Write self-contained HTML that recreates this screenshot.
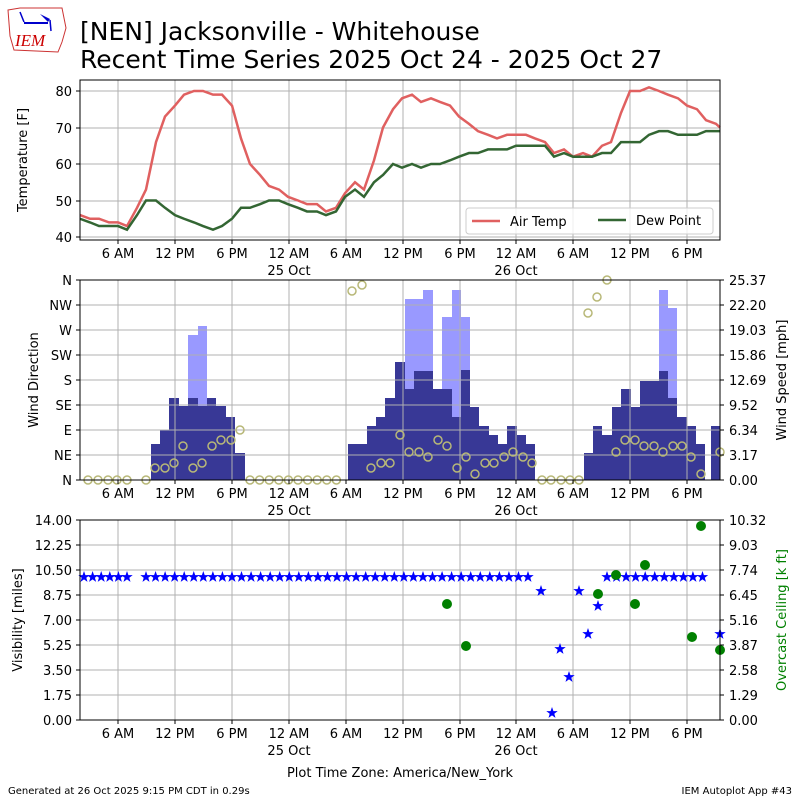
<!DOCTYPE html>
<html><head><meta charset="utf-8"><style>
body{margin:0;background:#fff}
svg{display:block}
text{font-family:"DejaVu Sans","Liberation Sans",sans-serif;fill:#000}
</style></head><body>
<svg id="s" width="800" height="800" viewBox="0 0 800 800" xmlns="http://www.w3.org/2000/svg">
<rect width="800" height="800" fill="#fff"/>
<!-- logo -->
<g>
<path d="M8,10 L20,8 L62,8 L66,28 L62,42 L58,52 L14,50 L10,36 Z" fill="#fff" stroke="#c33" stroke-width="1"/>
<line x1="24" y1="23" x2="48" y2="23" stroke="#00c" stroke-width="2"/>
<line x1="20" y1="12" x2="24" y2="22" stroke="#00c" stroke-width="1.5"/>
<path d="M40,14 L50,19 L48,22 Z" fill="#00c"/>
<line x1="50" y1="20" x2="51" y2="31" stroke="#00c" stroke-width="1.5"/>
<text x="15" y="46" font-size="17" style="fill:#c00;font-family:'Liberation Serif',serif;font-style:italic">IEM</text>
</g>
<text x="80" y="40" font-size="25">[NEN] Jacksonville - Whitehouse</text>
<text x="80" y="68" font-size="25">Recent Time Series 2025 Oct 24 - 2025 Oct 27</text>
<g id="grid" stroke="#b0b0b0" stroke-width="1"></g>
<g id="data"></g>
<g id="frames" fill="none" stroke="#000" stroke-width="1">
<rect x="80" y="80" width="640" height="160"/>
<rect x="80" y="280" width="640" height="200"/>
<rect x="80" y="520" width="640" height="200"/>
</g>
<g id="ticks" stroke="#000" stroke-width="1"></g>
<g font-size="13">
<text x="72" y="96" text-anchor="end">80</text>
<text x="72" y="169" text-anchor="end">60</text>
<text x="72" y="133" text-anchor="end">70</text>
<text x="72" y="206" text-anchor="end">50</text>
<text x="72" y="242" text-anchor="end">40</text>
<text transform="translate(27,160) rotate(-90)" text-anchor="middle">Temperature [F]</text>
<g text-anchor="middle">
<text x="118" y="258">6 AM</text><text x="175" y="258">12 PM</text><text x="232" y="258">6 PM</text><text x="289" y="258">12 AM</text><text x="289" y="275">25 Oct</text><text x="346" y="258">6 AM</text><text x="403" y="258">12 PM</text><text x="460" y="258">6 PM</text><text x="516" y="258">12 AM</text><text x="516" y="275">26 Oct</text><text x="573" y="258">6 AM</text><text x="630" y="258">12 PM</text><text x="687" y="258">6 PM</text>
<text x="118" y="498">6 AM</text><text x="175" y="498">12 PM</text><text x="232" y="498">6 PM</text><text x="289" y="498">12 AM</text><text x="289" y="515">25 Oct</text><text x="346" y="498">6 AM</text><text x="403" y="498">12 PM</text><text x="460" y="498">6 PM</text><text x="516" y="498">12 AM</text><text x="516" y="515">26 Oct</text><text x="573" y="498">6 AM</text><text x="630" y="498">12 PM</text><text x="687" y="498">6 PM</text>
<text x="118" y="738">6 AM</text><text x="175" y="738">12 PM</text><text x="232" y="738">6 PM</text><text x="289" y="738">12 AM</text><text x="289" y="755">25 Oct</text><text x="346" y="738">6 AM</text><text x="403" y="738">12 PM</text><text x="460" y="738">6 PM</text><text x="516" y="738">12 AM</text><text x="516" y="755">26 Oct</text><text x="573" y="738">6 AM</text><text x="630" y="738">12 PM</text><text x="687" y="738">6 PM</text>
<text x="400" y="777">Plot Time Zone: America/New_York</text>
</g>
<g text-anchor="end">
<text x="72" y="285">N</text><text x="72" y="310">NW</text><text x="72" y="335">W</text><text x="72" y="360">SW</text><text x="72" y="385">S</text><text x="72" y="410">SE</text><text x="72" y="435">E</text><text x="72" y="460">NE</text><text x="72" y="485">N</text>
</g>
<text transform="translate(38,380) rotate(-90)" text-anchor="middle">Wind Direction</text>
<g>
<text x="729" y="285">25.37</text><text x="729" y="310">22.20</text><text x="729" y="335">19.03</text><text x="729" y="360">15.86</text><text x="729" y="385">12.69</text><text x="729" y="410">9.52</text><text x="729" y="435">6.34</text><text x="729" y="460">3.17</text><text x="729" y="485">0.00</text>
</g>
<text transform="translate(786,380) rotate(-90)" text-anchor="middle">Wind Speed [mph]</text>
<g text-anchor="end">
<text x="72" y="525">14.00</text><text x="72" y="550">12.25</text><text x="72" y="575">10.50</text><text x="72" y="600">8.75</text><text x="72" y="625">7.00</text><text x="72" y="650">5.25</text><text x="72" y="675">3.50</text><text x="72" y="700">1.75</text><text x="72" y="725">0.00</text>
</g>
<text transform="translate(22,620) rotate(-90)" text-anchor="middle">Visibility [miles]</text>
<g>
<text x="729" y="525">10.32</text><text x="729" y="550">9.03</text><text x="729" y="575">7.74</text><text x="729" y="600">6.45</text><text x="729" y="625">5.16</text><text x="729" y="650">3.87</text><text x="729" y="675">2.58</text><text x="729" y="700">1.29</text><text x="729" y="725">0.00</text>
</g>
<text transform="translate(786,620) rotate(-90)" text-anchor="middle" style="fill:#008000">Overcast Ceiling [k ft]</text>
</g>
<text x="8" y="794" font-size="10">Generated at 26 Oct 2025 9:15 PM CDT in 0.29s</text>
<text x="792" y="794" font-size="10" text-anchor="end">IEM Autoplot App #43</text>
<g id="legend">
<rect x="466" y="208" width="247" height="26" rx="3" fill="#fff" fill-opacity="0.8" stroke="#ccc"/>
<line x1="472" y1="221" x2="500" y2="221" stroke="#e06060" stroke-width="2.5"/>
<text x="510" y="226" font-size="13">Air Temp</text>
<line x1="598" y1="220" x2="626" y2="220" stroke="#336633" stroke-width="2.5"/>
<text x="636" y="225" font-size="13">Dew Point</text>
</g>
</svg>
<script>
const NS="http://www.w3.org/2000/svg";
function el(p,t,a){const e=document.createElementNS(NS,t);for(const k in a)e.setAttribute(k,a[k]);p.appendChild(e);return e;}
const grid=document.getElementById('grid'),data=document.getElementById('data'),ticks=document.getElementById('ticks');
const xs=[118,175,232,289,346,403,460,516,573,630,687];
const panels=[[80,240,[91,128,164,201,237]],[280,480,[280,305,330,355,380,405,430,455,480]],[520,720,[520,545,570,595,620,645,670,695,720]]];
panels.forEach(([t,b,ys],pi)=>{
  xs.forEach(x=>{el(grid,'line',{x1:x,y1:t,x2:x,y2:b});el(ticks,'line',{x1:x,y1:b,x2:x,y2:b+4});});
  ys.forEach(y=>{el(grid,'line',{x1:80,y1:y,x2:720,y2:y});el(ticks,'line',{x1:76,y1:y,x2:80,y2:y});if(pi>0)el(ticks,'line',{x1:720,y1:y,x2:724,y2:y});});
});
const gust=[[188,198,335],[198,207,326],[405,423,299],[423,433,290],[442,452,317],[452,461,290],[461,470,317],[659,668,290],[668,677,308]];
const dark=[[151,160,444],[160,169,430],[169,179,398],[179,188,406],[188,198,398],[198,207,406],[207,216,398],[216,226,406],[226,235,417],[235,245,453],
[348,367,444],[367,376,426],[376,385,417],[385,395,398],[395,405,362],[405,414,389],[414,433,371],[433,442,389],[442,452,389],[452,461,417],[461,470,370],[470,479,407],[479,489,426],[489,498,435],[498,507,444],[507,517,426],[517,526,435],[526,535,444],
[584,593,453],[593,602,426],[602,612,435],[612,621,407],[621,631,389],[631,640,407],[640,659,381],[659,668,371],[668,677,398],[677,687,417],[687,696,426],[696,705,444],[711,720,426]];
const svg=document.getElementById('s');
const bars=document.createElementNS(NS,'g');svg.insertBefore(bars,grid);
gust.forEach(([a,b,t])=>el(bars,'rect',{x:a,y:t,width:b-a,height:480-t,fill:'#9999ff'}));
dark.forEach(([a,b,t])=>el(bars,'rect',{x:a,y:t,width:b-a,height:480-t,fill:'#383896'}));
const X=[80,90,99,109,118,127,137,146,156,165,175,184,194,203,213,222,232,241,250,260,269,279,288,298,307,317,326,336,345,355,364,374,383,393,402,412,421,431,440,450,459,469,478,488,497,507,516,526,535,545,554,564,573,583,592,602,611,621,630,640,649,659,668,678,687,697,706,716,720];
const T=[46,45,45,44,44,43,48,53,66,73,76,79,80,80,79,79,76,67,60,57,54,53,51,50,49,49,47,48,52,55,53,61,70,75,78,79,77,78,77,76,73,71,69,68,67,68,68,68,67,66,63,64,62,63,62,65,66,74,80,80,81,80,79,78,76,75,72,71,70];
const D=[45,44,43,43,43,42,46,50,50,48,46,45,44,43,42,43,45,48,48,49,50,50,49,48,47,47,46,47,51,53,51,55,57,60,59,60,59,60,60,61,62,63,63,64,64,64,65,65,65,65,62,63,62,62,62,63,63,66,66,66,68,69,69,68,68,68,69,69,69];
const ty=v=>91+(80-v)*3.65;
el(data,'polyline',{points:X.map((x,i)=>x+','+ty(T[i])).join(' '),fill:'none',stroke:'#e06060','stroke-width':2.5});
el(data,'polyline',{points:X.map((x,i)=>x+','+ty(D[i])).join(' '),fill:'none',stroke:'#336633','stroke-width':2.5});
const C=[[88,480],[98,480],[108,480],[117,480],[127,480],[146,480],[155,468],[165,468],[174,463],[183,446],[193,468],[202,463],[212,446],[221,440],[231,440],[240,430]];
for(let x=250;x<=346;x+=9.6)C.push([x,480]);
C.push([352,291],[362,285],[371,468],[381,463],[390,463],[400,435],[409,452],[419,452],[428,457],[438,440],[447,446],[457,468],[466,457],[475,474],[485,463],[494,463],[504,457],[513,452],[523,457],[532,463],[542,480],[551,480],[561,480],[570,480],[579,480],[588,313],[597,297],[607,280],[616,452],[625,440],[635,440],[644,446],[654,446],[663,452],[673,446],[682,446],[691,457],[701,474],[720,452]);
C.forEach(([x,y])=>el(data,'circle',{cx:x,cy:y,r:4,fill:'none',stroke:'#b8b878','stroke-width':1.5}));
function star(x,y){let p=[];for(let i=0;i<10;i++){const r=i%2?2.4:6,a=-Math.PI/2+i*Math.PI/5;p.push((x+r*Math.cos(a)).toFixed(1)+','+(y+r*Math.sin(a)).toFixed(1));}el(data,'polygon',{points:p.join(' '),fill:'#0000ff'});}
const S=[];for(let x=84;x<=128;x+=8.6)S.push([x,577]);for(let x=146;x<=533;x+=9.55)S.push([x,577]);
S.push([541,591],[552,713],[560,649],[569,677],[579,591],[588,634],[598,606]);
for(let x=607;x<=703;x+=9.55)S.push([x,577]);S.push([720,634]);
S.forEach(([x,y])=>star(x,y));
[[447,604],[466,646],[598,594],[616,575],[635,604],[645,565],[692,637],[701,526],[720,650]].forEach(([x,y])=>el(data,'circle',{cx:x,cy:y,r:5,fill:'#008000'}));
</script>
</body></html>
